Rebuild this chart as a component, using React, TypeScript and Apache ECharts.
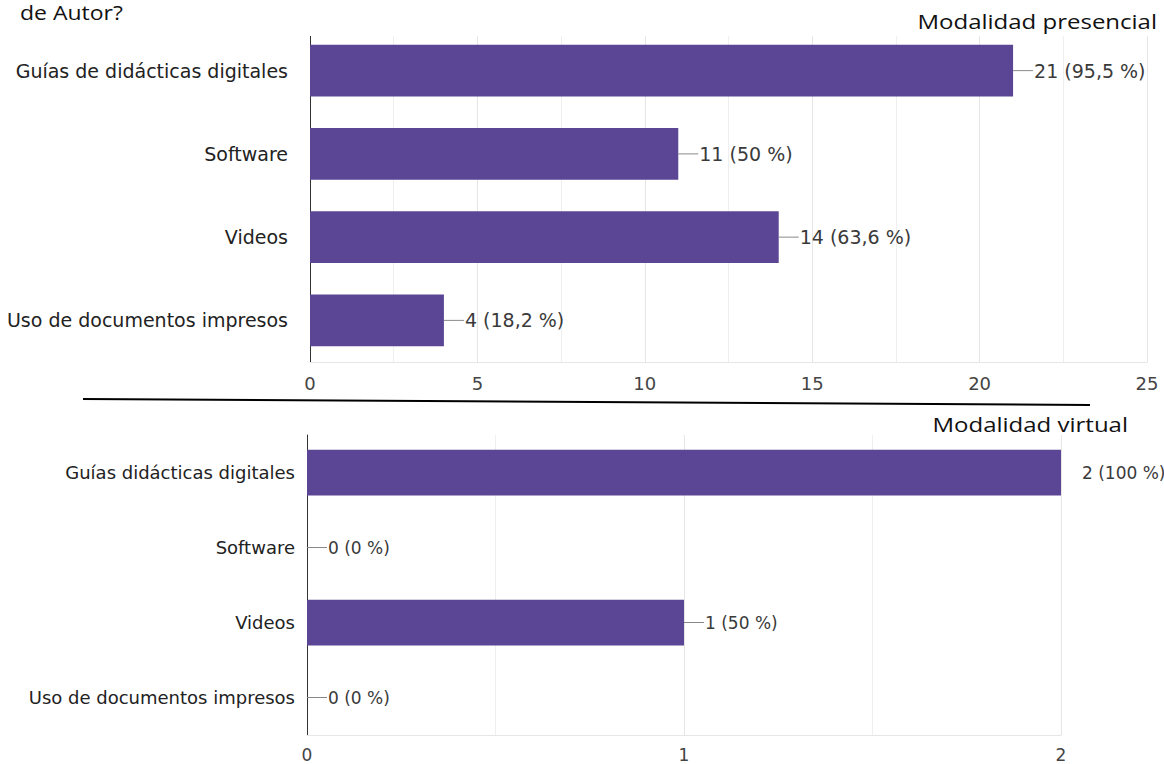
import React, { useEffect, useRef } from "react";
import * as echarts from "echarts";

const categoriesTop = [
  "Guías de didácticas digitales",
  "Software",
  "Videos",
  "Uso de documentos impresos",
];
const valuesTop = [21, 11, 14, 4];
const labelsTop = ["21 (95,5 %)", "11 (50 %)", "14 (63,6 %)", "4 (18,2 %)"];
const ticksTopMax = 25;

const categoriesBottom = [
  "Guías didácticas digitales",
  "Software",
  "Videos",
  "Uso de documentos impresos",
];
const valuesBottom = [2, 0, 1, 0];
const labelsBottom = ["2 (100 %)", "0 (0 %)", "1 (50 %)", "0 (0 %)"];
const ticksBottomMax = 2;

const BAR = "#5b4595";
const FONT = "'DejaVu Sans', 'Liberation Sans', Arial, sans-serif";
const TFONT = "'Open Sans', sans-serif";

export default function App() {
  const ref = useRef<HTMLDivElement>(null);
  useEffect(() => {
    if (!ref.current) return;
    const chart = echarts.init(ref.current, null, { renderer: "svg" });
    const mkLabel = (labels: string[], fs: number, max: number, values: number[]) => ({
      show: true,
      position: "right",
      distance: 0,
      formatter: (p: any) =>
        values[p.dataIndex] === max
          ? `{g|}{t|${labels[p.dataIndex]}}`
          : `{l|}{t|${labels[p.dataIndex]}}`,
      rich: {
        l: { width: 20, height: 1, backgroundColor: "#888", verticalAlign: "middle" },
        g: { width: 20, height: 1, verticalAlign: "middle" },
        t: {
          fontSize: fs,
          color: "#3a3a3a",
          fontFamily: FONT,
          padding: [0, 0, 0, 1],
          verticalAlign: "middle",
        },
      },
    });
    const xAxisCommon = (max: number, interval: number, fs: number, margin: number) => ({
      type: "value",
      min: 0,
      max,
      interval,
      axisLine: { show: true, lineStyle: { color: "#e6e6e6" } },
      axisTick: { show: false },
      minorTick: { show: false, splitNumber: 2 },
      minorSplitLine: { show: true, lineStyle: { color: "#efefef" } },
      splitLine: { show: true, lineStyle: { color: "#e6e6e6" } },
      axisLabel: { color: "#444", fontSize: fs, fontFamily: FONT, margin },
    });
    const yAxisCommon = (cats: string[], fs: number, margin: number) => ({
      type: "category",
      data: cats,
      inverse: true,
      axisLine: { show: true, lineStyle: { color: "#333", width: 1 } },
      axisTick: { show: false },
      splitLine: { show: false },
      axisLabel: { color: "#222", fontSize: fs, fontFamily: FONT, margin },
    });
    chart.setOption({
      animation: false,
      backgroundColor: "#fff",
      grid: [
        { left: 310, top: 29, width: 837, height: 333 },
        { left: 307, top: 435, width: 754, height: 300 },
      ],
      xAxis: [
        { ...xAxisCommon(ticksTopMax, 5, 18, 12), gridIndex: 0 },
        { ...xAxisCommon(ticksBottomMax, 1, 17, 11), gridIndex: 1 },
      ],
      yAxis: [
        { ...yAxisCommon(categoriesTop, 19, 22), gridIndex: 0 },
        { ...yAxisCommon(categoriesBottom, 18, 12), gridIndex: 1 },
      ],
      series: [
        {
          type: "bar",
          xAxisIndex: 0,
          yAxisIndex: 0,
          data: valuesTop,
          barCategoryGap: "38%",
          itemStyle: { color: BAR },
          label: mkLabel(labelsTop, 19, ticksTopMax, valuesTop),
        },
        {
          type: "bar",
          xAxisIndex: 1,
          yAxisIndex: 1,
          data: valuesBottom,
          barCategoryGap: "39%",
          itemStyle: { color: BAR },
          label: mkLabel(labelsBottom, 17, ticksBottomMax, valuesBottom),
        },
      ],
      graphic: [
        {
          type: "rect",
          z: 100,
          shape: { x: 305, y: 0, width: 859, height: 36 },
          style: { fill: "#fff" },
        },
        {
          type: "text",
          z: 101,
          x: 20,
          y: 12,
          scaleX: 1.15,
          style: {
            text: "de Autor?",
            fontSize: 20,
            fontFamily: TFONT,
            fill: "#111",
            align: "left",
            verticalAlign: "middle",
          },
        },
        {
          type: "text",
          z: 101,
          x: 1157,
          y: 21,
          scaleX: 1.2,
          style: {
            text: "Modalidad presencial",
            fontSize: 20,
            fontFamily: TFONT,
            fill: "#111",
            align: "right",
            verticalAlign: "middle",
          },
        },
        {
          type: "text",
          z: 101,
          x: 1128,
          y: 424,
          scaleX: 1.2,
          style: {
            text: "Modalidad virtual",
            fontSize: 20,
            fontFamily: TFONT,
            fill: "#111",
            align: "right",
            verticalAlign: "middle",
          },
        },
        {
          type: "line",
          z: 101,
          shape: { x1: 83, y1: 399, x2: 1090, y2: 405 },
          style: { stroke: "#000", lineWidth: 2 },
        },
      ],
    });
    return () => chart.dispose();
  }, []);
  return (
    <div
      ref={ref}
      style={{ position: "fixed", left: 0, top: 0, width: 1164, height: 764 }}
    />
  );
}
